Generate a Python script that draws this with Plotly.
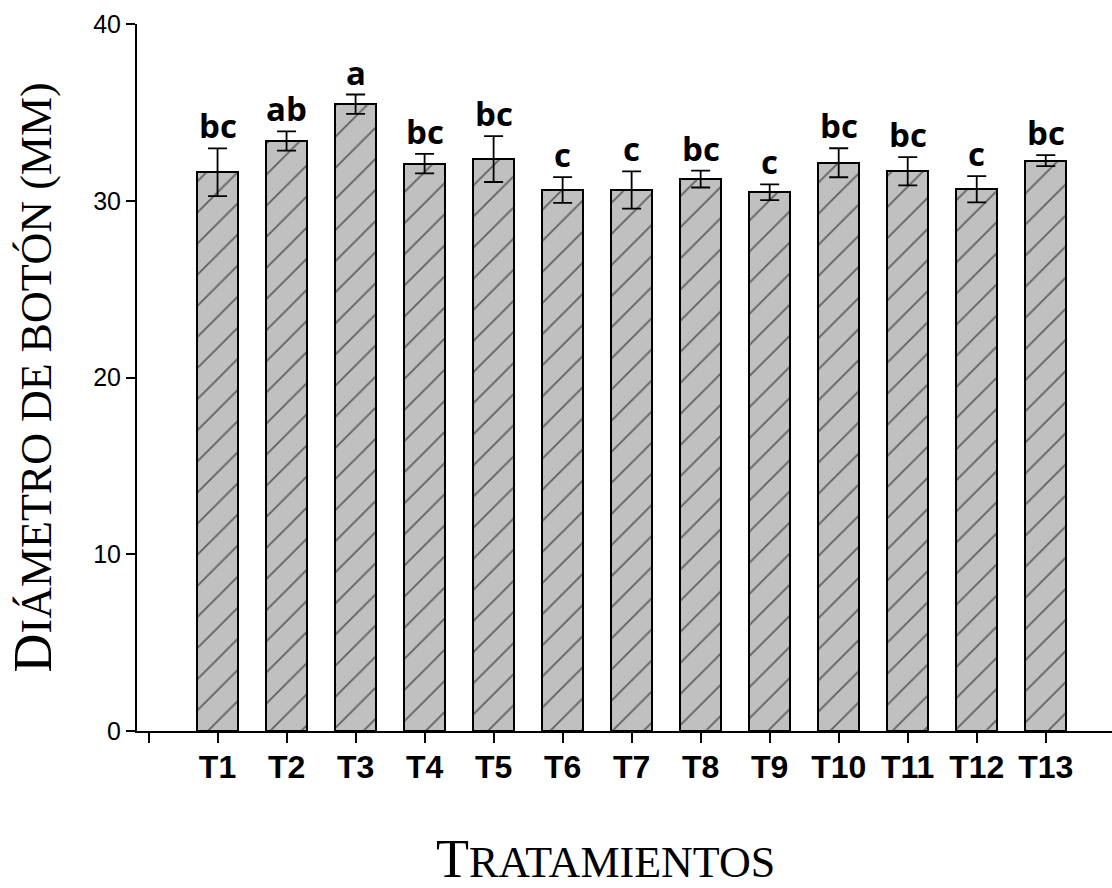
import plotly.graph_objects as go

# Treatments, mean bud diameter (mm), standard error and Tukey grouping letters
tratamientos = ["T1", "T2", "T3", "T4", "T5", "T6", "T7",
                "T8", "T9", "T10", "T11", "T12", "T13"]
diametro = [31.61, 33.38, 35.46, 32.10, 32.36, 30.61, 30.61,
            31.23, 30.48, 32.15, 31.67, 30.65, 32.27]
error_est = [1.35, 0.54, 0.55, 0.55, 1.30, 0.73, 1.05,
             0.48, 0.45, 0.82, 0.80, 0.74, 0.31]
letras = ["bc", "ab", "a", "bc", "bc", "c", "c",
          "bc", "c", "bc", "bc", "c", "bc"]

posiciones = list(range(1, len(tratamientos) + 1))

fig = go.Figure()
fig.add_trace(go.Bar(
    x=posiciones,
    y=diametro,
    width=0.6,
    marker=dict(
        color="#c0c0c0",
        line=dict(color="black", width=2),
        pattern=dict(shape="/", size=22, solidity=0.08,
                     fgcolor="black", bgcolor="#c0c0c0", fillmode="overlay"),
    ),
    error_y=dict(type="data", array=error_est, visible=True,
                 color="black", thickness=1.8, width=9.5),
    showlegend=False,
    hoverinfo="skip",
))

# Significance letters above each error bar
for xp, m, e, l in zip(posiciones, diametro, error_est, letras):
    fig.add_annotation(
        x=xp, y=m + e, text=l, showarrow=False,
        xanchor="center", yanchor="bottom", yshift=-2,
        font=dict(family="Open Sans", size=33, color="black", weight="bold"),
    )

serif = "Liberation Serif"
fig.add_annotation(
    xref="paper", yref="paper", x=0, y=0.5, xshift=-105,
    xanchor="center", yanchor="middle", textangle=-90, showarrow=False,
    text="D<span style='font-size:44px'>IÁMETRO DE BOTÓN (MM)</span>",
    font=dict(family=serif, size=54, color="black"),
)
fig.add_annotation(
    xref="paper", yref="paper", x=0, y=0, xshift=468, yshift=-96,
    xanchor="center", yanchor="top", showarrow=False,
    text="T<span style='font-size:44px'>RATAMIENTOS</span>",
    font=dict(family=serif, size=54, color="black"),
)

fig.update_layout(
    width=1112, height=888,
    margin=dict(l=137, r=0, t=24, b=157),
    plot_bgcolor="white", paper_bgcolor="white",
    bargap=0,
)
fig.update_xaxes(
    range=[-0.167, 13.96],
    tickvals=[0] + posiciones,
    ticktext=[""] + tratamientos,
    ticks="outside", ticklen=10, tickwidth=1.5, tickcolor="black",
    showline=True, linecolor="black", linewidth=2,
    showgrid=False, zeroline=False, ticklabelstandoff=-3,
    tickfont=dict(family="Liberation Sans", size=32, color="black", weight="bold"),
)
fig.update_yaxes(
    range=[0, 40],
    tickvals=[0, 10, 20, 30, 40],
    ticks="outside", ticklen=9, tickwidth=1.5, tickcolor="black",
    showline=True, linecolor="black", linewidth=2,
    showgrid=False, zeroline=False,
    tickfont=dict(family="Liberation Sans", size=25, color="black"),
)

fig.write_html("out.html")
